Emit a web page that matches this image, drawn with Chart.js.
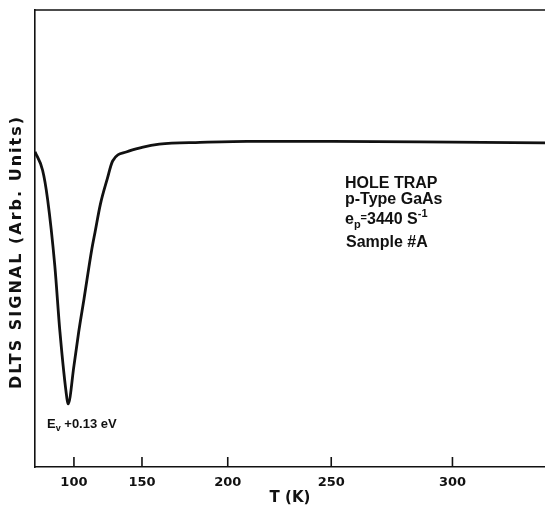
<!DOCTYPE html>
<html>
<head>
<meta charset="utf-8">
<script src="https://cdn.jsdelivr.net/npm/chart.js@4.4.1/dist/chart.umd.min.js"></script>
<style>
html,body{margin:0;padding:0;background:#fff;}
#wrap{width:545px;height:514px;position:relative;}
</style>
</head>
<body>
<div id="wrap"><canvas id="c" width="545" height="514"></canvas></div>
<script>
// ---- data ----
const temperatureK = [63, 71, 76, 83, 87.7, 94, 95, 100, 104, 108.3, 114.5, 117, 121, 126, 130, 140, 150, 161, 185, 210, 250, 300, 334];
const dltsSignal   = [-0.04, -0.11, -0.22, -0.475, -0.725, -0.98, -1.0, -0.855, -0.725, -0.6, -0.41, -0.345, -0.24, -0.145, -0.075, -0.04, -0.023, -0.011, -0.004, 0, 0, -0.003, -0.006];
const xTickValues  = [100, 150, 200, 250, 300];
const xRange = [63, 334];
const yRange = [-1.24, 0.5];
const xAxisTitle = 'T (K)';
const yAxisTitle = 'DLTS SIGNAL (Arb. Units)';

// thermocouple-like (non-linear) temperature axis of the recorder
const THERMO_K = 0.00747;
class ThermoScale extends Chart.LinearScale {
  _u(v) { return v + THERMO_K * v * v; }
  getPixelForValue(v) {
    if (v === null || v === undefined || isNaN(v)) return NaN;
    const a = this._u(this.min), b = this._u(this.max);
    return this.getPixelForDecimal((this._u(v) - a) / (b - a));
  }
  getValueForPixel(p) {
    const a = this._u(this.min), b = this._u(this.max);
    const u = a + this.getDecimalForPixel(p) * (b - a);
    return (-1 + Math.sqrt(1 + 4 * THERMO_K * u)) / (2 * THERMO_K);
  }
}
ThermoScale.id = 'thermo';
ThermoScale.defaults = Object.assign({}, Chart.LinearScale.defaults);
Chart.register(ThermoScale);

const INK = '#111';
const FONT = '"DejaVu Sans", sans-serif';
const NOTE_FONT = '"Liberation Sans", Arial, sans-serif';

function drawRuns(ctx, x, y, runs) {
  // runs: [text, size, dy]
  let cx = x;
  runs.forEach(([t, size, dy]) => {
    ctx.font = 'bold ' + size + 'px ' + NOTE_FONT;
    ctx.fillText(t, cx, y + dy);
    cx += ctx.measureText(t).width;
  });
}

const overlay = {
  id: 'overlay',
  afterDraw(chart) {
    const {ctx, chartArea: a, scales: {x}} = chart;
    ctx.save();
    ctx.strokeStyle = INK;
    ctx.lineWidth = 1.6;
    ctx.beginPath(); ctx.moveTo(a.left - 0.8, a.top); ctx.lineTo(a.right, a.top); ctx.stroke();
    x.ticks.forEach(t => {
      const px = x.getPixelForValue(t.value);
      ctx.beginPath(); ctx.moveTo(px, a.bottom); ctx.lineTo(px, a.bottom - 10); ctx.stroke();
    });
    ctx.fillStyle = INK;
    // y title
    ctx.save();
    ctx.translate(17, 252);
    ctx.rotate(-Math.PI / 2);
    ctx.font = 'bold 16px ' + FONT;
    try { ctx.letterSpacing = '2px'; } catch (e) {}
    ctx.textAlign = 'center';
    ctx.textBaseline = 'middle';
    ctx.fillText(yAxisTitle, 0, 0);
    ctx.restore();
    // annotation block
    ctx.textAlign = 'left';
    ctx.textBaseline = 'alphabetic';
    drawRuns(ctx, 345, 188, [['HOLE TRAP', 16, 0]]);
    drawRuns(ctx, 345, 204, [['p-Type GaAs', 16, 0]]);
    drawRuns(ctx, 345, 224, [['e', 16, 0], ['p', 11, 4], ['=', 11, -3], ['3440 S', 16, 0], ['-1', 11, -7]]);
    drawRuns(ctx, 346, 247, [['Sample #A', 16, 0]]);
    drawRuns(ctx, 47, 428, [['E', 13, 0], ['v', 9, 3], [' +0.13 eV', 13, 0]]);
    ctx.restore();
  }
};

new Chart(document.getElementById('c'), {
  type: 'line',
  data: {
    datasets: [{
      data: temperatureK.map((t, i) => ({x: t, y: dltsSignal[i]})),
      borderColor: INK,
      borderWidth: 2.8,
      pointRadius: 0,
      fill: false,
      cubicInterpolationMode: 'monotone'
    }]
  },
  options: {
    responsive: false,
    animation: false,
    devicePixelRatio: 1,
    layout: {padding: {top: 10, right: 0, left: 0, bottom: 0}},
    plugins: {legend: {display: false}, tooltip: {enabled: false}},
    scales: {
      x: {
        type: 'thermo',
        min: xRange[0], max: xRange[1],
        afterBuildTicks: s => { s.ticks = xTickValues.map(v => ({value: v})); },
        afterFit: s => { s.height = 47; },
        grid: {display: false, drawTicks: false},
        border: {display: true, color: INK, width: 1.6},
        ticks: {color: INK, font: {family: FONT, weight: 'bold', size: 13}, padding: 8, maxRotation: 0, autoSkip: false},
        title: {display: true, text: xAxisTitle, color: INK, font: {family: FONT, weight: 'bold', size: 15}, padding: {top: 0, bottom: 7}}
      },
      y: {
        min: yRange[0], max: yRange[1],
        afterFit: s => { s.width = 35; },
        grid: {display: false, drawTicks: false},
        border: {display: true, color: INK, width: 1.6},
        ticks: {display: false}
      }
    }
  },
  plugins: [overlay]
});
</script>
</body>
</html>
